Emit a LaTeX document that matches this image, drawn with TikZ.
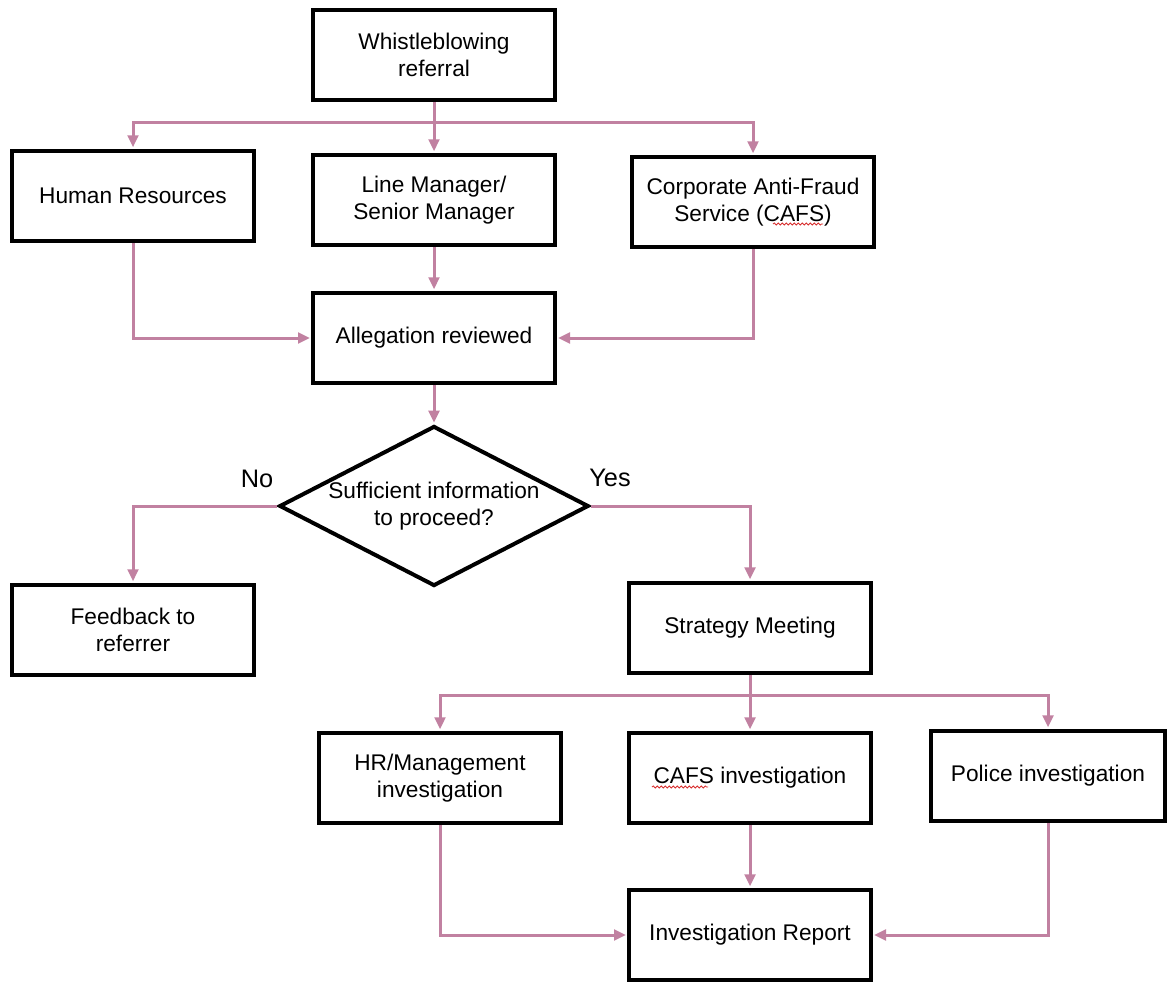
\documentclass[tikz,border=0pt]{standalone}
\usepackage{fontspec}
\setmainfont{Liberation Sans}
\usepackage{xcolor}
\usepackage{tikz}
\usetikzlibrary{shapes.geometric,arrows.meta,decorations.pathmorphing}
\definecolor{mauve}{RGB}{193, 129, 161}
\definecolor{spellred}{RGB}{215, 45, 45}

\tikzset{
  panel/.style={draw, line width=3pt, align=center, inner sep=2pt,
    minimum width=181pt, minimum height=68pt, font=\fontsize{17}{20}\selectfont},
  query/.style={draw, diamond, aspect=1.92, line width=3pt, align=center, inner sep=0pt,
    minimum width=232pt, minimum height=120pt, font=\fontsize{17}{20}\selectfont},
  answer/.style={inner sep=0.75pt, font=\fontsize{19}{22}\selectfont},
  link/.style={draw=mauve, line width=2.25pt},
  flow/.style={link, -{Triangle[length=9pt,width=8pt]}, shorten >=1pt},
  spelling/.style={draw=spellred, line width=0.6pt, decorate,
    decoration={snake, amplitude=0.8pt, segment length=3pt}},
}

\begin{document}
\begin{tikzpicture}[x=0.75pt,y=0.75pt,yscale=-1,xscale=1]
\useasboundingbox (0,0) rectangle (1168,985);

%Shape: Rectangle
\node [panel] (whistle) at (434,55) {Whistleblowing\\referral};
%Shape: Rectangle
\node [panel] (hres) at (133,196) {Human Resources};
%Shape: Rectangle
\node [panel] (linemgr) at (434,200) {Line Manager/\\Senior Manager};
%Shape: Rectangle
\node [panel] (cafs) at (753,202) {Corporate Anti-Fraud\\Service (CAFS)};
%Shape: Rectangle
\node [panel] (allegation) at (434,338) {Allegation reviewed};
%Shape: Diamond
\node [query] (decision) at (434,506) {Sufficient information\\to proceed?};
%Shape: Rectangle
\node [panel] (feedback) at (133,630) {Feedback to\\referrer};
%Shape: Rectangle
\node [panel] (strategy) at (750,628) {Strategy Meeting};
%Shape: Rectangle
\node [panel] (hrinv) at (440,778) {HR/Management\\investigation};
%Shape: Rectangle
\node [panel] (cafsinv) at (750,778) {CAFS investigation};
%Shape: Rectangle
\node [panel, minimum width=175pt] (police) at (1048,776) {Police investigation};
%Shape: Rectangle
\node [panel] (report) at (750,935) {Investigation Report};

% Text Node
\node [answer] (nolbl) at (257,479) {No};
% Text Node
\node [answer] (yeslbl) at (610,478) {Yes};

\coordinate (split1) at (whistle.south |- 0,122);
\coordinate (split2) at (strategy.south |- 0,695);

%Straight Lines
\draw [link] (whistle.south) -- (split1);
\draw [flow] (split1) -| (hres.north);
\draw [flow] (split1) -- (linemgr.north);
\draw [flow] (split1) -| (cafs.north);
%Straight Lines
\draw [flow] (hres.south) |- (allegation.west);
\draw [flow] (linemgr.south) -- (allegation.north);
\draw [flow] (cafs.south) |- (allegation.east);
%Straight Lines
\draw [flow] (allegation.south) -- (decision.north);
\draw [flow] (decision.west) -| (feedback.north);
\draw [flow] (decision.east) -| (strategy.north);
%Straight Lines
\draw [link] (strategy.south) -- (split2);
\draw [flow] (split2) -| (hrinv.north);
\draw [flow] (split2) -- (cafsinv.north);
\draw [flow] (split2) -| (police.north);
%Straight Lines
\draw [flow] (hrinv.south) |- (report.west);
\draw [flow] (cafsinv.south) -- (report.north);
\draw [flow] (police.south) |- (report.east);

%Curve Lines
\draw [spelling] ([shift={(20,22)}]cafs.center) -- ([shift={(70,22)}]cafs.center);
\draw [spelling] ([shift={(-98,9)}]cafsinv.center) -- ([shift={(-42,9)}]cafsinv.center);

\end{tikzpicture}
\end{document}
